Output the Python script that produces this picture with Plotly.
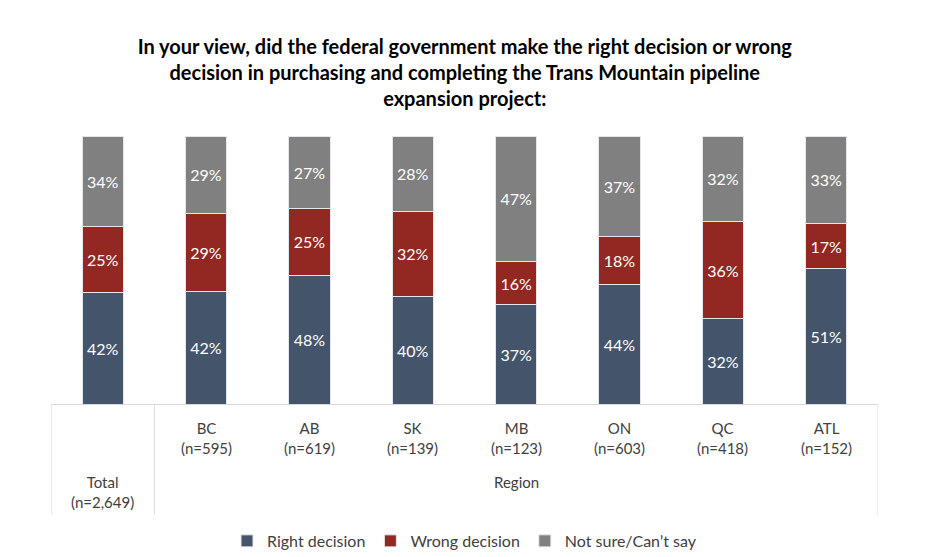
import plotly.graph_objects as go

# Survey results (%), Total + regions
groups = ["Total", "BC", "AB", "SK", "MB", "ON", "QC", "ATL"]
sample_sizes = ["2,649", "595", "619", "139", "123", "603", "418", "152"]
right = [42, 42, 48, 40, 37, 44, 32, 51]
wrong = [25, 29, 25, 32, 16, 18, 36, 17]
not_sure = [34, 29, 27, 28, 47, 37, 32, 33]

series = [
    ("Right decision", right, "#44546A"),
    ("Wrong decision", wrong, "#922821"),
    ("Not sure/Can’t say", not_sure, "#808080"),
]

font = "Lato, 'Open Sans', sans-serif"
label_col = "#404040"
line_col = "#D9D9D9"

fig = go.Figure()
for name, vals, col in series:
    fig.add_trace(go.Bar(
        x=groups, y=vals, name=name,
        marker=dict(color=col, line=dict(color="#E4E6EA", width=1)),
        text=vals, texttemplate="%{text}%", textposition="inside",
        insidetextanchor="middle",
        textfont=dict(color="white", size=16, family=font),
    ))

# category labels below the axis
for g, n in zip(groups, sample_sizes):
    ypos = -0.25 if g == "Total" else -0.05
    fig.add_annotation(
        x=g, y=ypos, xref="x", yref="paper", yanchor="top",
        text=f"{g}<br>(n={n})", showarrow=False,
        font=dict(size=15, color=label_col, family=font),
    )
fig.add_annotation(
    x=4, y=-0.25, xref="x", yref="paper", yanchor="top",
    text="Region", showarrow=False,
    font=dict(size=15, color=label_col, family=font),
)

# table-style divider lines
for xv in [-0.5, 0.5, 7.5]:
    fig.add_shape(type="line", xref="x", yref="paper",
                  x0=xv, x1=xv, y0=0, y1=-0.414,
                  line=dict(color=line_col, width=1))

fig.update_layout(
    width=936, height=557,
    barmode="stack", barnorm="percent", bargap=0.6,
    paper_bgcolor="white", plot_bgcolor="white",
    margin=dict(l=43, r=66, t=128, b=161, autoexpand=False),
    title=dict(
        text="<b>In your view, did the federal government make the right decision or wrong<br>"
             "decision in purchasing and completing the Trans Mountain pipeline<br>"
             "expansion project:</b>",
        x=0.488, xanchor="center", y=0.917, yanchor="top",
        font=dict(size=20, color="black", family=font),
    ),
    xaxis=dict(showticklabels=False, showline=True, linecolor=line_col,
               ticks="", range=[-0.5, 7.5], fixedrange=True),
    yaxis=dict(visible=False, range=[0, 100]),
    legend=dict(orientation="h", x=0.5, xanchor="center", y=-0.511,
                yanchor="middle", font=dict(size=16, color=label_col, family=font),
                traceorder="normal"),
    showlegend=True,
)

fig.write_html("out.html")
